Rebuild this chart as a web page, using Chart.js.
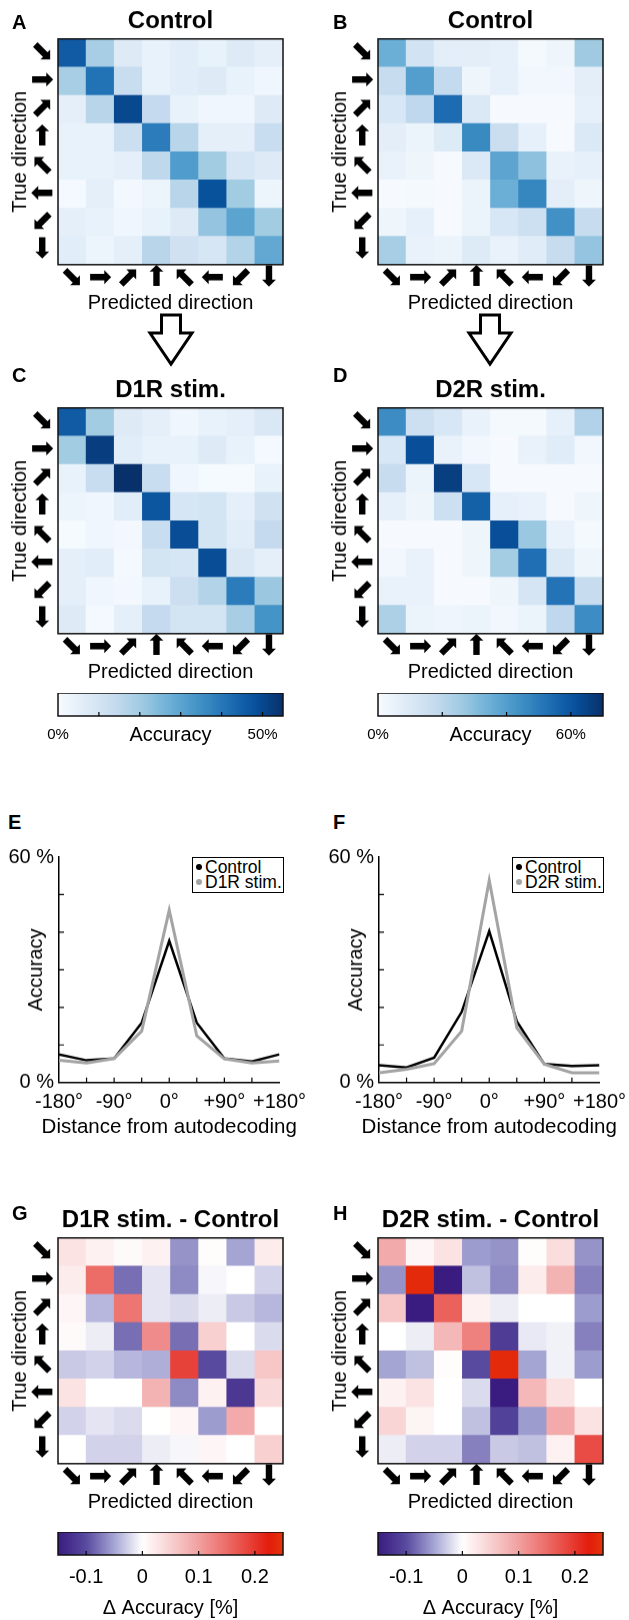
<!DOCTYPE html>
<html>
<head>
<meta charset="utf-8">
<script src="https://cdn.jsdelivr.net/npm/chart.js@4.4.1/dist/chart.umd.min.js"></script>
<style>
  body { margin: 0; background: #fff; }
  #page { position: relative; width: 629px; height: 1620px; overflow: hidden; font-family: "Liberation Sans", Arial, sans-serif; color: #000; }
  .panel { position: absolute; }
  .letter { position: absolute; font-weight: bold; font-size: 20px; line-height: 20px; }
  .legend { position: absolute; box-sizing: border-box; border: 1.5px solid #000; background: #fff; font-size: 17.5px; line-height: 15px; padding: 2px 0 0 3px; white-space: nowrap; }
  .legend .dot { display: inline-block; width: 6px; height: 6px; border-radius: 50%; margin: 0 3px 2px 0; vertical-align: middle; }
</style>
</head>
<body>
<div id="page"></div>
<script>
// direction labels, shared by rows (true) and columns (predicted)
const dirLabels = ["⬊", "➡", "⬈", "⬆", "⬉", "⬅", "⬋", "⬇"];

// decoding accuracy (%), rows = true direction, cols = predicted direction
const accControlD1 = [
  [46, 19, 7, 4, 6, 4, 7, 5],
  [19, 41, 13, 4, 6, 7, 4, 2],
  [5, 16, 50, 14, 4, 2, 2, 7],
  [4, 4, 12, 39, 16, 5, 5, 13],
  [4, 4, 5, 15, 32, 20, 9, 7],
  [1, 5, 1.5, 3, 16, 48, 20, 3],
  [5, 4, 2, 4, 7, 22, 30, 20],
  [6, 3, 5, 16, 11, 9, 17, 29]
];
const accControlD2 = [
  [35, 13, 7, 7, 6, 1, 3, 26],
  [17, 40, 18, 3, 6, 2, 2, 7],
  [11, 19, 54, 10, 0.5, 0.5, 0.5, 6],
  [7, 4, 9, 46, 16, 6, 0.5, 10],
  [5, 3, 0.5, 10, 38, 29, 5, 6],
  [0.5, 1, 0.5, 4, 35, 47, 7, 3],
  [3, 6, 0.5, 4, 11, 15, 44, 17],
  [24, 5, 4, 9, 5, 8, 17, 28]
];
const accD1R = [
  [46, 20, 7, 5, 2, 4, 5, 8],
  [20, 52, 6, 4, 4, 7, 4, 1],
  [4, 13, 55, 13, 2, 0.5, 0.5, 4],
  [3, 2, 6, 47, 9, 10, 5, 11],
  [0.5, 2, 1.5, 13, 49, 10, 6, 14],
  [5, 6, 1, 10, 9, 49, 8, 5],
  [5, 2, 1.5, 4, 12, 17, 39, 21],
  [7, 1, 5, 14, 10, 10, 19, 34]
];
const accD2R = [
  [45, 15, 11, 5, 1, 1, 6, 22],
  [11, 62, 5, 2, 0.5, 5, 8, 2],
  [17, 4, 66, 11, 0.5, 0.5, 0.5, 0.5],
  [6, 3, 15, 57, 6, 5, 0.5, 3],
  [0.5, 0.5, 0.5, 3, 62, 27, 5, 1],
  [2, 5, 0.5, 3, 25, 53, 10, 3],
  [5, 5, 0.5, 0.5, 3, 12, 52, 17],
  [23, 4, 3, 4, 2, 4, 19, 45]
];

// stim - control differences
const diffD1R = [
  [0.03, 0.015, 0.005, 0.015, -0.06, 0.003, -0.05, 0.02],
  [0.02, 0.15, -0.08, -0.015, -0.065, -0.005, 0, -0.025],
  [0.01, -0.04, 0.14, -0.015, -0.02, -0.01, -0.03, -0.04],
  [0.005, -0.01, -0.08, 0.12, -0.08, 0.05, 0, -0.02],
  [-0.03, -0.025, -0.04, -0.045, 0.19, -0.1, -0.02, 0.06],
  [0.03, 0, 0, 0.08, -0.065, 0.015, -0.12, 0.04],
  [-0.025, -0.015, -0.02, 0, 0.01, -0.055, 0.09, 0],
  [0, -0.025, -0.025, -0.01, -0.005, 0.01, 0, 0.05]
];
const diffD2R = [
  [0.09, 0.01, 0.03, -0.055, -0.06, 0.003, 0.035, -0.06],
  [-0.06, 0.24, -0.15, -0.035, -0.065, 0.02, 0.08, -0.07],
  [0.06, -0.15, 0.16, 0.015, -0.01, 0, 0, -0.055],
  [0, -0.01, 0.075, 0.13, -0.115, -0.012, -0.008, -0.07],
  [-0.05, -0.035, 0.003, -0.1, 0.24, -0.05, -0.008, -0.055],
  [0.015, 0.03, 0, -0.02, -0.15, 0.075, 0.03, 0],
  [0.045, 0.012, 0, -0.035, -0.11, -0.055, 0.09, 0.03],
  [-0.01, -0.025, -0.025, -0.07, -0.03, -0.035, 0.015, 0.18]
];

// accuracy vs distance from autodecoding
const distDeg = [-180, -135, -90, -45, 0, 45, 90, 135, 180];
const curveControlE = [7.5, 5.9, 6.4, 15.9, 37.7, 15.9, 6.4, 5.6, 7.5];
const curveD1R = [5.9, 5.2, 6.4, 13.7, 45.9, 12.4, 6.3, 5.2, 5.7];
const curveControlF = [4.6, 4.0, 6.6, 18.8, 40.3, 16.3, 4.9, 4.4, 4.6];
const curveD2R = [2.6, 3.5, 5.0, 13.7, 53.8, 14.6, 4.9, 2.6, 2.6];

// colorbar ticks
const accTicksD1 = [0, 10, 20, 30, 40, 50];
const accTicksD2 = [0, 20, 40, 60];
const diffTicks = [-0.1, 0, 0.1, 0.2];

const FONT = '"Liberation Sans", Arial, sans-serif';
const ARROW_FONT = '"DejaVu Sans", "Noto Sans", sans-serif';
Chart.defaults.font.family = FONT;
Chart.defaults.color = "#000";

const page = document.getElementById("page");

// ---- colormaps ----
const bluesStops = ["#f7fbff", "#deebf7", "#c6dbef", "#9ecae1", "#6baed6", "#4292c6", "#2171b5", "#08519c", "#08306b"];
const hexRgb = h => [1, 3, 5].map(i => parseInt(h.substr(i, 2), 16));
function blues(max) {
  const rgb = bluesStops.map(hexRgb);
  return v => {
    const t = Math.max(0, Math.min(1, v / max)) * (rgb.length - 1);
    const i = Math.min(rgb.length - 2, Math.floor(t)), f = t - i;
    const c = rgb[i].map((a, k) => Math.round(a + (rgb[i + 1][k] - a) * f));
    return `rgb(${c})`;
  };
}
const divStops = [
  [-0.15, [58, 28, 128]], [-0.1, [88, 74, 158]], [-0.05, [165, 165, 212]], [0, [255, 255, 255]],
  [0.05, [248, 208, 208]], [0.1, [241, 160, 160]], [0.15, [236, 108, 104]], [0.2, [230, 55, 45]],
  [0.225, [226, 28, 12]], [0.25, [228, 52, 10]]
];
function diverging(v) {
  if (v <= divStops[0][0]) return `rgb(${divStops[0][1]})`;
  for (let i = 1; i < divStops.length; i++) {
    const [v1, c1] = divStops[i], [v0, c0] = divStops[i - 1];
    if (v <= v1) {
      const f = (v - v0) / (v1 - v0);
      return `rgb(${c0.map((a, k) => Math.round(a + (c1[k] - a) * f))})`;
    }
  }
  return `rgb(${divStops[divStops.length - 1][1]})`;
}

// ---- helpers ----
function addBox(left, top, width, height) {
  const div = document.createElement("div");
  div.className = "panel";
  Object.assign(div.style, { left: left + "px", top: top + "px", width: width + "px", height: height + "px" });
  const cv = document.createElement("canvas");
  div.appendChild(cv);
  page.appendChild(div);
  return cv;
}

const frame = {
  id: "frame",
  afterDraw(chart) {
    const { ctx, chartArea: a } = chart;
    ctx.save();
    ctx.strokeStyle = "#111";
    ctx.lineWidth = 1.5;
    ctx.strokeRect(a.left, a.top, a.right - a.left, a.bottom - a.top);
    ctx.restore();
  }
};

const inwardTicks = {
  id: "inwardTicks",
  afterDraw(chart, args, opts) {
    const { ctx, chartArea: a, scales } = chart;
    const len = opts.length || 5;
    ctx.save();
    ctx.strokeStyle = "#000";
    ctx.lineWidth = 1.2;
    ctx.beginPath();
    if (scales.x) {
      scales.x.ticks.forEach(t => {
        const px = scales.x.getPixelForValue(t.value);
        if (px < a.left + 1 || px > a.right - 1) return;
        ctx.moveTo(px, a.bottom);
        ctx.lineTo(px, a.bottom - len);
      });
    }
    if (scales.y && scales.y.options.display) {
      scales.y.ticks.forEach(t => {
        const py = scales.y.getPixelForValue(t.value);
        if (py < a.top + 1 || py > a.bottom - 1) return;
        ctx.moveTo(a.left, py);
        ctx.lineTo(a.left + len, py);
      });
    }
    ctx.stroke();
    ctx.restore();
  }
};

// x caption centred under the plot area, drawn without the axis-width squeeze
const caption = {
  id: "caption",
  afterDraw(chart, args, opts) {
    if (!opts.text) return;
    const { ctx, chartArea: a } = chart;
    ctx.save();
    ctx.font = `${opts.size}px ${FONT}`;
    ctx.fillStyle = "#000";
    ctx.textAlign = "center";
    ctx.textBaseline = "middle";
    ctx.fillText(opts.text, (a.left + a.right) / 2, a.bottom + opts.offset);
    ctx.restore();
  }
};

const arrowFont = { family: ARROW_FONT, size: 28, lineHeight: 1 };

function heatmap(rows, colorFn, title, areaLeft, areaTop) {
  const size = 225, yW = 58, xH = 56, titleH = 37.8, padR = 16;
  const cv = addBox(areaLeft - yW, areaTop - titleH, yW + size + padR, titleH + size + xH);
  new Chart(cv, {
    type: "bar",
    data: {
      labels: dirLabels,
      datasets: rows.map(row => ({
        data: row.map(() => 1),
        backgroundColor: row.map(colorFn),
        borderWidth: 0,
        barPercentage: 1,
        categoryPercentage: 1
      })).reverse()
    },
    options: {
      responsive: true,
      maintainAspectRatio: false,
      animation: false,
      layout: { padding: { left: 0, right: padR, top: 0, bottom: 0 } },
      plugins: {
        legend: { display: false },
        tooltip: { enabled: false },
        title: { display: true, text: title, fullSize: false, color: "#000",
          font: { size: 24, weight: "bold" }, padding: { top: 6, bottom: 3 } }
      },
      scales: {
        x: {
          stacked: true,
          afterFit: s => { s.height = xH; },
          ticks: { font: arrowFont, padding: 0, maxRotation: 0, autoSkip: false },
          grid: { display: false, drawTicks: false },
          border: { display: false },
          title: { display: true, text: "Predicted direction", font: { size: 20 }, padding: { top: 0, bottom: 5 } }
        },
        y: {
          stacked: true,
          min: 0,
          max: 8,
          afterBuildTicks: s => { s.ticks = dirLabels.map((_, i) => ({ value: i + 0.5 })); },
          afterFit: s => { s.width = yW; },
          ticks: { callback: v => dirLabels[7 - Math.floor(v)], font: arrowFont, padding: 4, autoSkip: false },
          grid: { display: false, drawTicks: false },
          border: { display: false },
          title: { display: true, text: "True direction", font: { size: 20 }, padding: { top: 8.5, bottom: 0 } }
        }
      }
    },
    plugins: [frame]
  });
}

function gradient(chart, colorFn) {
  const { ctx, chartArea, scales } = chart;
  if (!chartArea) return null;
  const x = scales.x;
  const g = ctx.createLinearGradient(chartArea.left, 0, chartArea.right, 0);
  for (let i = 0; i <= 60; i++) {
    g.addColorStop(i / 60, colorFn(x.min + (x.max - x.min) * i / 60));
  }
  return g;
}

function colorbar(cfg) {
  const w = 225, h = 23, pad = 24;
  const cv = addBox(cfg.left - pad, cfg.top, w + 2 * pad, h + cfg.axisH);
  new Chart(cv, {
    type: "bar",
    data: {
      labels: [""],
      datasets: [{
        data: [[cfg.min, cfg.max]],
        backgroundColor: c => gradient(c.chart, cfg.colorFn),
        borderWidth: 0,
        barPercentage: 1,
        categoryPercentage: 1
      }]
    },
    options: {
      indexAxis: "y",
      responsive: true,
      maintainAspectRatio: false,
      animation: false,
      layout: { padding: { left: pad, right: pad, top: 0, bottom: 0 } },
      plugins: { legend: { display: false }, tooltip: { enabled: false }, inwardTicks: { length: 4 } },
      scales: {
        y: { display: false },
        x: {
          type: "linear",
          min: cfg.min,
          max: cfg.max,
          afterBuildTicks: s => { s.ticks = cfg.ticks.map(v => ({ value: v })); },
          afterFit: s => { s.height = cfg.axisH; },
          ticks: { callback: cfg.tickText, autoSkip: false, maxRotation: 0, padding: cfg.tickPad, font: { size: cfg.tickSize } },
          grid: { display: false, drawTicks: false },
          border: { display: false },
          title: { display: true, text: cfg.title, font: { size: 20 }, padding: { top: 0, bottom: cfg.titlePad } }
        }
      }
    },
    plugins: [frame, inwardTicks]
  });
}

function lineChart(control, stim, stimLabel, areaLeft) {
  const yW = 59, padTop = 15, padR = 30, areaW = 225, areaH = 226.7, xH = 60;
  const cv = addBox(areaLeft - yW, 855 - padTop, yW + areaW + padR, padTop + areaH + xH);
  const pts = arr => distDeg.map((d, i) => ({ x: d, y: arr[i] }));
  new Chart(cv, {
    type: "line",
    data: {
      datasets: [
        { label: "Control", data: pts(control), borderColor: "#000", borderWidth: 2.5, pointRadius: 0, tension: 0, order: 1 },
        { label: stimLabel, data: pts(stim), borderColor: "#a4a4a4", borderWidth: 3, pointRadius: 0, tension: 0, order: 0 }
      ]
    },
    options: {
      responsive: true,
      maintainAspectRatio: false,
      animation: false,
      layout: { padding: { left: 0, right: padR, top: padTop, bottom: 0 } },
      plugins: {
        legend: { display: false },
        tooltip: { enabled: false },
        inwardTicks: { length: 5 },
        caption: { text: "Distance from autodecoding", size: 20.5, offset: 45 }
      },
      scales: {
        x: {
          type: "linear",
          min: -180,
          max: 180,
          afterFit: s => { s.height = xH; },
          ticks: {
            stepSize: 45,
            autoSkip: false,
            maxRotation: 0,
            padding: 8,
            font: { size: 20 },
            callback: v => (v % 90 === 0 ? (v > 0 ? "+" : "") + v + "°" : "")
          },
          grid: { display: false, drawTicks: false },
          border: { display: true, color: "#000", width: 1.5 }
        },
        y: {
          min: 0,
          max: 60,
          afterFit: s => { s.width = yW; },
          ticks: { stepSize: 10, autoSkip: false, padding: 5, font: { size: 20 },
            callback: v => (v === 0 || v === 60 ? v + " %" : "") },
          grid: { display: false, drawTicks: false },
          border: { display: true, color: "#000", width: 1.5 },
          title: { display: true, text: "Accuracy", font: { size: 20 }, padding: { top: 24.5, bottom: 0 } }
        }
      }
    },
    plugins: [inwardTicks, caption]
  });
  // legend box in the upper right of the plot area
  const lg = document.createElement("div");
  lg.className = "legend";
  Object.assign(lg.style, { left: (areaLeft + areaW - 92) + "px", top: "856.5px", width: "92px", height: "36px" });
  [["Control", "#000"], [stimLabel, "#a4a4a4"]].forEach(([name, col]) => {
    const row = document.createElement("div");
    row.innerHTML = `<span class="dot" style="background:${col}"></span>${name}`;
    lg.appendChild(row);
  });
  page.appendChild(lg);
}

function letter(ch, left, top) {
  const d = document.createElement("div");
  d.className = "letter";
  d.textContent = ch;
  d.style.left = left + "px";
  d.style.top = top + "px";
  page.appendChild(d);
}

function hollowArrow(cx) {
  const ns = "http://www.w3.org/2000/svg";
  const svg = document.createElementNS(ns, "svg");
  svg.setAttribute("width", "50");
  svg.setAttribute("height", "60");
  Object.assign(svg.style, { position: "absolute", left: (cx - 25) + "px", top: "311px" });
  const p = document.createElementNS(ns, "polygon");
  p.setAttribute("points", "15.5,4 34.5,4 34.5,22 46,22 25,53 4,22 15.5,22");
  p.setAttribute("fill", "#fff");
  p.setAttribute("stroke", "#000");
  p.setAttribute("stroke-width", "3");
  svg.appendChild(p);
  page.appendChild(svg);
}

// ---- build the figure ----
const blues55 = blues(55), blues70 = blues(70);

heatmap(accControlD1, blues55, "Control", 58, 39);
heatmap(accControlD2, blues70, "Control", 378, 39);
heatmap(accD1R, blues55, "D1R stim.", 58, 407.7);
heatmap(accD2R, blues70, "D2R stim.", 378, 407.7);
heatmap(diffD1R, diverging, "D1R stim. - Control", 58, 1237.7);
heatmap(diffD2R, diverging, "D2R stim. - Control", 378, 1237.7);

hollowArrow(171);
hollowArrow(490);

colorbar({ left: 58, top: 693, min: 0, max: 55, colorFn: blues55, ticks: accTicksD1,
  tickText: v => (v === 0 || v === 50 ? v + "%" : ""), tickSize: 15, tickPad: 10,
  title: "Accuracy", axisH: 36, titlePad: 5 });
colorbar({ left: 378, top: 693, min: 0, max: 70, colorFn: blues70, ticks: accTicksD2,
  tickText: v => (v === 0 || v === 60 ? v + "%" : ""), tickSize: 15, tickPad: 10,
  title: "Accuracy", axisH: 36, titlePad: 5 });
colorbar({ left: 58, top: 1532, min: -0.15, max: 0.25, colorFn: diverging, ticks: diffTicks,
  tickText: v => String(Math.round(v * 10) / 10), tickSize: 20, tickPad: 10,
  title: "Δ Accuracy [%]", axisH: 67, titlePad: 2 });
colorbar({ left: 378, top: 1532, min: -0.15, max: 0.25, colorFn: diverging, ticks: diffTicks,
  tickText: v => String(Math.round(v * 10) / 10), tickSize: 20, tickPad: 10,
  title: "Δ Accuracy [%]", axisH: 67, titlePad: 2 });

lineChart(curveControlE, curveD1R, "D1R stim.", 59);
lineChart(curveControlF, curveD2R, "D2R stim.", 379);

letter("A", 12, 12);
letter("B", 333, 12);
letter("C", 12, 365);
letter("D", 333, 365);
letter("E", 8, 812);
letter("F", 333, 812);
letter("G", 12, 1203);
letter("H", 333, 1203);
</script>
</body>
</html>
